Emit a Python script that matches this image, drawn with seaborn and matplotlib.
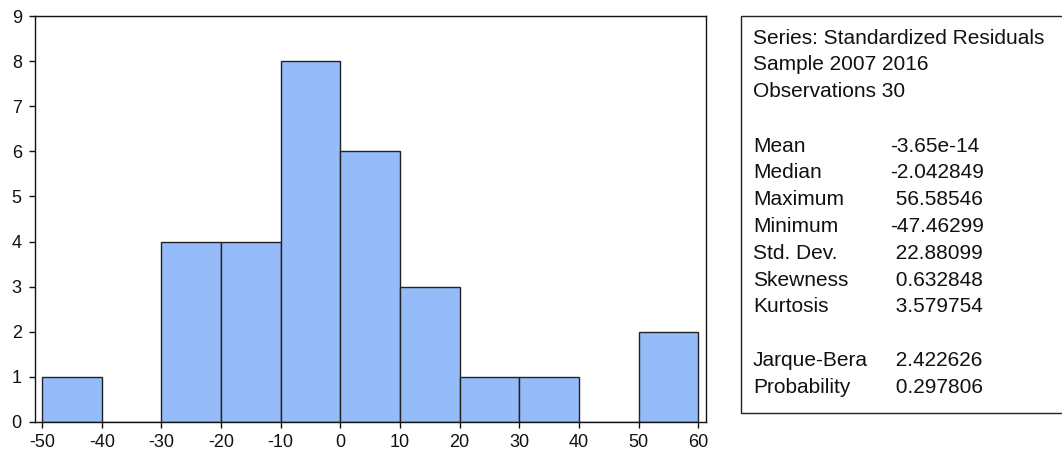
import matplotlib
matplotlib.use("Agg")
import matplotlib.pyplot as plt
from matplotlib.patches import Rectangle
import numpy as np
import pandas as pd
import seaborn as sns

# ── data ─────────────────────────────────────────────────────────────────────
bin_edges = [-50, -40, -30, -20, -10, 0, 10, 20, 30, 40, 50, 60]
bin_counts = [1, 0, 4, 4, 8, 6, 3, 1, 1, 0, 2]

stat_header = ["Series: Standardized Residuals", "Sample 2007 2016", "Observations 30"]
stat_names = ["Mean", "Median", "Maximum", "Minimum", "Std. Dev.", "Skewness", "Kurtosis"]
stat_values = ["-3.65e-14", "-2.042849", " 56.58546", "-47.46299", " 22.88099", " 0.632848", " 3.579754"]
test_names = ["Jarque-Bera", "Probability"]
test_values = [" 2.422626", " 0.297806"]

sns.set_theme(style="white")
plt.rcParams["font.family"] = ["Liberation Sans", "DejaVu Sans"]
plt.rcParams["axes.unicode_minus"] = False

W, H = 1062, 457
fig = plt.figure(figsize=(W / 100, H / 100), dpi=100)
ax = fig.add_axes([35 / W, 1 - 422 / H, (706 - 35) / W, (422 - 16) / H])

centers = [(a + b) / 2 for a, b in zip(bin_edges[:-1], bin_edges[1:])]
df = pd.DataFrame({"x": centers, "n": bin_counts})
sns.histplot(data=df, x="x", weights="n", bins=bin_edges, ax=ax,
             color="#95BCF8", alpha=1.0, edgecolor="#222222", linewidth=1.0)

ax.set_xlim(-51.2, 61.3)
ax.set_ylim(0, 9)
ax.set_xticks(np.arange(-50, 61, 10))
ax.set_yticks(range(0, 10))
ax.set_xlabel("")
ax.set_ylabel("")
for s in ax.spines.values():
    s.set_color("#111111")
    s.set_linewidth(1.0)
ax.tick_params(axis="both", which="major", direction="out", length=4.5, width=1,
               color="#111111", labelsize=13, labelcolor="#111111")
ax.tick_params(axis="y", pad=5)
ax.tick_params(axis="x", pad=4)
ax.tick_params(top=False, right=False, left=True, bottom=True)

# ── statistics box ───────────────────────────────────────────────────────────
box = Rectangle((741 / W, 1 - 413 / H), (W - 741 + 5) / W, (413 - 16) / H,
                transform=fig.transFigure, fill=False, edgecolor="#222222",
                linewidth=1.0, clip_on=False)
fig.patches.append(box)

lx = 753 / W
vx = 890 / W
step = 26.8
y0 = 38
fs = 15
for i, t in enumerate(stat_header):
    fig.text(lx, 1 - (y0 + i * step) / H, t, fontsize=fs, va="center", color="#111111")
ys = y0 + 4 * step + 1
for i, (n, v) in enumerate(zip(stat_names, stat_values)):
    yy = 1 - (ys + i * step) / H
    fig.text(lx, yy, n, fontsize=fs, va="center", color="#111111")
    fig.text(vx, yy, v, fontsize=fs, va="center", color="#111111")
yt = ys + 8 * step
for i, (n, v) in enumerate(zip(test_names, test_values)):
    yy = 1 - (yt + i * step) / H
    fig.text(lx, yy, n, fontsize=fs, va="center", color="#111111")
    fig.text(vx, yy, v, fontsize=fs, va="center", color="#111111")

fig.savefig("out.png", dpi=100)
